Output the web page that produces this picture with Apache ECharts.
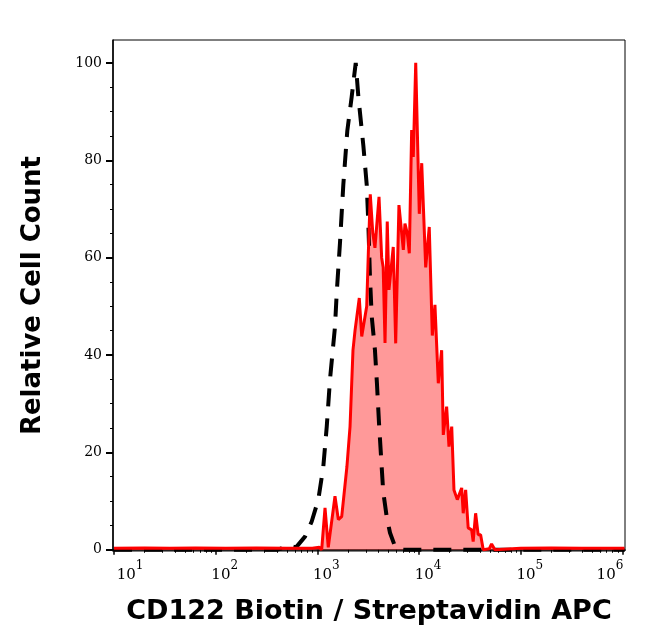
<!DOCTYPE html>
<html>
<head>
<meta charset="utf-8">
<script src="https://cdn.jsdelivr.net/npm/echarts@6/dist/echarts.min.js"></script>
<style>
  html, body { margin: 0; padding: 0; background: #fff; }
  #chart { width: 646px; height: 641px; }
</style>
</head>
<body>
<div id="chart"></div>
<script>
// x values are log10 of the APC intensity (decades), y is relative cell count
const stainedLogX = [1.000, 1.300, 1.550, 1.800, 2.100, 2.400, 2.700, 2.950, 3.019, 3.042,
  3.075, 3.107, 3.173, 3.206, 3.239, 3.290, 3.321, 3.350, 3.370, 3.412, 3.436, 3.485, 3.501,
  3.520, 3.545, 3.566, 3.606, 3.632, 3.647, 3.665, 3.687, 3.704, 3.746, 3.770, 3.802, 3.845,
  3.861, 3.884, 3.904, 3.927, 3.943, 3.967, 4.002, 4.026, 4.065, 4.100, 4.130, 4.156, 4.189,
  4.222, 4.238, 4.271, 4.294, 4.321, 4.343, 4.376, 4.419, 4.434, 4.458, 4.483, 4.517, 4.532,
  4.556, 4.581, 4.605, 4.631, 4.690, 4.713, 4.746, 5.000, 5.300, 5.600, 6.020];
const stainedY = [0.3, 0.35, 0.3, 0.35, 0.3, 0.35, 0.3, 0.3, 0.5, 0,
  8.6, 0.5, 11, 6.2, 6.8, 17, 25.3, 41, 45, 51.7, 43.8, 50, 61,
  73, 65, 62, 72.5, 60, 58, 42.5, 67.4, 53.4, 62.2, 42.4, 70.8, 61.6,
  67, 65, 60.9, 86.2, 80.7, 100, 69, 79.4, 58, 66.3, 44, 50.3, 34.2,
  41, 23.6, 29.4, 21.2, 25.3, 12.3, 10.3, 12.7, 7.5, 12.3, 4.5, 4.1, 1.7,
  7.5, 3.1, 3.1, 0, 0.2, 1.2, 0, 0.3, 0.35, 0.3, 0.3];

const controlLogX = [1.000, 2.600, 2.632, 2.731, 2.790, 2.878, 2.944, 3.009, 3.058, 3.092,
  3.124, 3.173, 3.190, 3.222, 3.255, 3.294, 3.337, 3.377, 3.403, 3.452, 3.485, 3.501, 3.517,
  3.534, 3.566, 3.586, 3.606, 3.647, 3.680, 3.714, 3.763, 3.812, 6.020];
const controlY = [0, 0, 0.2, 0.8, 0.5, 2.7, 5.8, 10.3, 17, 25.3,
  35, 45.8, 52.7, 63, 75, 86, 93, 100, 93, 83, 75, 67, 56,
  48, 41, 34, 26, 12, 7, 3.5, 0.7, 0, 0];

const xDecades = [1, 2, 3, 4, 5, 6];
const yTicks = [0, 20, 40, 60, 80, 100];
const yMinorTicks = [5, 10, 15, 25, 30, 35, 45, 50, 55, 65, 70, 75, 85, 90, 95];

const xMinorTicks = [];
xDecades.slice(0, 5).forEach(function (d) {
  for (let k = 2; k <= 9; k++) xMinorTicks.push(d + Math.log10(k));
});

const toPairs = (xs, ys) => xs.map((x, i) => [x, ys[i]]);

const chart = echarts.init(document.getElementById('chart'));

const X_MIN = 0.99, X_MAX = 6.025;
const Y_MIN = -0.25, Y_MAX = 104.7;

chart.setOption({
  animation: false,
  backgroundColor: '#fff',
  grid: {
    left: 113, right: 21, top: 40, bottom: 90,
    show: true, borderColor: '#000', borderWidth: 1
  },
  xAxis: [{
    type: 'value',
    min: X_MIN, max: X_MAX,
    name: 'CD122 Biotin / Streptavidin APC',
    nameLocation: 'middle',
    nameGap: 47,
    nameTextStyle: { fontFamily: 'DejaVu Sans', fontWeight: 'bold', fontSize: 27, color: '#000' },
    axisLine: { show: true, lineStyle: { color: '#000', width: 1.5 } },
    splitLine: { show: false },
    axisTick: { show: true, customValues: xDecades, length: 5, lineStyle: { color: '#000', width: 1.5 } },
    axisLabel: {
      show: true,
      customValues: xDecades,
      margin: 9,
      formatter: function (v) {
        const e = Math.round(v);
        const lead = e === 1 ? '{p1|}' : (e === 6 ? '' : '{p|}');
        const tail = e === 6 ? '{p6|}' : '';
        return lead + '{b|10}{s|' + e + '}' + tail;
      },
      rich: {
        b: { fontFamily: 'DejaVu Serif', fontSize: 15, color: '#000', lineHeight: 30 },
        s: { fontFamily: 'DejaVu Serif', fontSize: 12, color: '#000', verticalAlign: 'top' },
        p: { width: 18 },
        p1: { width: 32 },
        p6: { width: 25 }
      }
    }
  }, {
    type: 'value',
    position: 'bottom',
    min: X_MIN, max: X_MAX,
    axisLine: { show: false },
    splitLine: { show: false },
    axisLabel: { show: false },
    axisTick: { show: true, customValues: xMinorTicks, length: 3, lineStyle: { color: '#000', width: 1 } }
  }],
  yAxis: [{
    type: 'value',
    min: Y_MIN, max: Y_MAX,
    name: 'Relative Cell Count',
    nameLocation: 'middle',
    nameRotate: 90,
    nameGap: 67,
    nameTextStyle: { fontFamily: 'DejaVu Sans', fontWeight: 'bold', fontSize: 26, color: '#000' },
    axisLine: { show: true, lineStyle: { color: '#000', width: 1.5 } },
    splitLine: { show: false },
    axisTick: { show: true, customValues: yTicks, length: 7, lineStyle: { color: '#000', width: 2 } },
    axisLabel: {
      show: true,
      customValues: yTicks,
      margin: 11,
      fontFamily: 'DejaVu Serif',
      fontSize: 14,
      color: '#000'
    }
  }, {
    type: 'value',
    position: 'left',
    min: Y_MIN, max: Y_MAX,
    axisLine: { show: false },
    splitLine: { show: false },
    axisLabel: { show: false },
    axisTick: { show: true, customValues: yMinorTicks, length: 3, lineStyle: { color: '#000', width: 1 } }
  }],
  series: [
    {
      name: 'control',
      type: 'line',
      showSymbol: false,
      symbol: 'none',
      lineStyle: { color: '#000', width: 4, type: [18, 12] },
      data: toPairs(controlLogX, controlY)
    },
    {
      name: 'stained',
      type: 'line',
      showSymbol: false,
      symbol: 'none',
      lineStyle: { color: '#ff0000', width: 3 },
      areaStyle: { color: 'rgba(255, 0, 0, 0.4)', opacity: 1 },
      data: toPairs(stainedLogX, stainedY)
    }
  ]
});
</script>
</body>
</html>
